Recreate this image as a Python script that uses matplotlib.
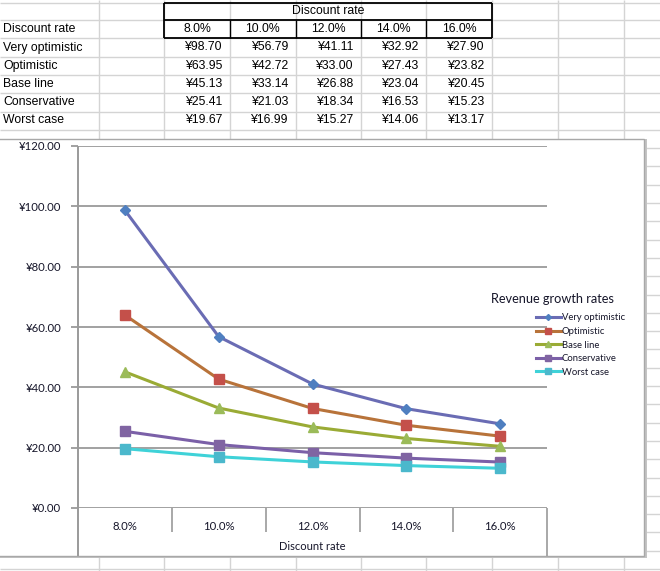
import matplotlib
matplotlib.use("Agg")
import matplotlib.pyplot as plt
from matplotlib.lines import Line2D
from matplotlib.patches import Rectangle

# ---------------- data ----------------
rates = ["8.0%", "10.0%", "12.0%", "14.0%", "16.0%"]
scenarios = ["Very optimistic", "Optimistic", "Base line", "Conservative", "Worst case"]
very_optimistic = [98.70, 56.79, 41.11, 32.92, 27.90]
optimistic = [63.95, 42.72, 33.00, 27.43, 23.82]
base_line = [45.13, 33.14, 26.88, 23.04, 20.45]
conservative = [25.41, 21.03, 18.34, 16.53, 15.23]
worst_case = [19.67, 16.99, 15.27, 14.06, 13.17]
series = [very_optimistic, optimistic, base_line, conservative, worst_case]
y_ticks = [0, 20, 40, 60, 80, 100, 120]
y_tick_labels = ["¥0.00", "¥20.00", "¥40.00", "¥60.00", "¥80.00", "¥100.00", "¥120.00"]
x_title = "Discount rate"
legend_title = "Revenue growth rates"

# ---------------- styles ----------------
line_colors = ["#6a6cb4", "#b8733a", "#9aab35", "#7b60a8", "#3fd2d8"]
marker_colors = ["#4f7fc0", "#c4504a", "#9bbb59", "#8064a2", "#4bb8cc"]
markers = ["D", "s", "^", "s", "s"]
msizes = [5.5, 7.8, 7.8, 7.8, 7.8]

W, H = 660, 571
fig = plt.figure(figsize=(W / 100, H / 100), dpi=100)
fig.patch.set_facecolor("white")


def fx(x):
    return x / W


def fy(y):
    return 1 - y / H


def fline(x1, y1, x2, y2, color, lw=1.0, z=0.5):
    fig.add_artist(Line2D([fx(x1), fx(x2)], [fy(y1), fy(y2)], transform=fig.transFigure,
                          color=color, lw=lw, zorder=z, solid_capstyle="butt"))


tbl_font = ["Liberation Sans", "DejaVu Sans"]
ch_font = ["Lato", "DejaVu Sans"]
grid_c = "#d4d4d4"
txt_c = "#16162a"

# ---------------- spreadsheet grid ----------------
row_y = [3] + [20 + 18.3 * k for k in range(31)]
col_x = [99, 164, 230, 296, 361, 426, 492, 558, 624]
for y in row_y:
    fline(0, y, W, y, grid_c, 1.0, 0.5)
for x in col_x:
    fline(x, 0, x, H, grid_c, 1.0, 0.5)

# ---------------- table ----------------
tc = [164, 230, 296, 361, 426, 492]
fig.text(fx(328), fy(11.5), "Discount rate", ha="center", va="center",
         fontsize=8.8, family=tbl_font, color="black", zorder=4)
fig.text(fx(3), fy(29), "Discount rate", ha="left", va="center",
         fontsize=8.8, family=tbl_font, color="black", zorder=4)
for i, r in enumerate(rates):
    fig.text(fx((tc[i] + tc[i + 1]) / 2), fy(29.5), r, ha="center", va="center",
             fontsize=8.8, family=tbl_font, color="black", zorder=4)
for j, (name, vals) in enumerate(zip(scenarios, series)):
    yc = 47.5 + 18.2 * j
    fig.text(fx(3), fy(yc), name, ha="left", va="center",
             fontsize=8.8, family=tbl_font, color="black", zorder=4)
    for i, v in enumerate(vals):
        fig.text(fx(tc[i + 1] - 8), fy(yc), f"¥{v:.2f}", ha="right", va="center",
                 fontsize=8.8, family=tbl_font, color="black", zorder=4)
# borders
for (x1, y1, x2, y2) in [(164, 3, 492, 3), (164, 20, 492, 20), (164, 38, 492, 38),
                         (164, 3, 164, 38), (492, 3, 492, 38)]:
    fline(x1, y1, x2, y2, "black", 1.3, 3)
for x in tc[1:-1]:
    fline(x, 20, x, 38, "black", 1.0, 3)

# ---------------- chart box ----------------
fig.add_artist(Rectangle((fx(-2), fy(557.5)), fx(648.5), (557.5 - 139) / H,
                         transform=fig.transFigure, facecolor="#c4c4c4",
                         edgecolor="none", zorder=0.9))
fig.add_artist(Rectangle((fx(-5), fy(556)), fx(649), (556 - 138.5) / H,
                         transform=fig.transFigure, facecolor="white",
                         edgecolor="#a8a8a8", lw=1.0, zorder=1))

# category axis area lines
ax_col = "#9a9a9a"
fline(78, 146, 78, 556, ax_col, 1.4, 2)
fline(547, 508, 547, 556, ax_col, 1.2, 2)
for x in [172, 266, 360, 453]:
    fline(x, 508, x, 532, ax_col, 1.2, 2)

# ---------------- axes ----------------
ax = fig.add_axes([fx(78), fy(508), (547 - 78) / W, (508 - 146) / H])
ax.set_zorder(3)
ax.patch.set_visible(False)
ax.set_xlim(-0.5, 4.5)
ax.set_ylim(0, 120)
for s in ax.spines.values():
    s.set_visible(False)
ax.set_yticks(y_ticks, y_tick_labels)
ax.yaxis.grid(True, color=ax_col, lw=1.3)
ax.set_axisbelow(True)
ax.tick_params(axis="y", length=5, width=1.3, color=ax_col, pad=7, labelsize=8.2,
               labelcolor=txt_c)
ax.set_xticks(range(len(rates)), rates)
ax.tick_params(axis="x", length=0, pad=9, labelsize=8.2, labelcolor=txt_c)
for lab in ax.get_xticklabels() + ax.get_yticklabels():
    lab.set_family(ch_font)
ax.set_xlabel(x_title, fontsize=8.0, family=ch_font, color=txt_c, labelpad=7)

handles = []
for name, vals, lc, mc, mk, ms in zip(scenarios, series, line_colors, marker_colors,
                                      markers, msizes):
    h, = ax.plot(range(len(vals)), vals, color=lc, lw=2.2, marker=mk, ms=ms,
                 markerfacecolor=mc, markeredgecolor=mc, label=name, clip_on=False)
    handles.append(h)

# ---------------- legend ----------------
fig.text(fx(552), fy(299), legend_title, ha="center", va="center", fontsize=9.2,
         family=ch_font, color=txt_c, zorder=4)
leg = ax.legend(handles=handles, loc="upper left", bbox_to_anchor=(fx(536), fy(313.5)),
                bbox_transform=fig.transFigure, frameon=False,
                prop={"family": ch_font, "size": 6.8}, handlelength=2.6,
                handletextpad=0.15, labelspacing=0.48, markerscale=0.55,
                borderaxespad=0, borderpad=0)
for t in leg.get_texts():
    t.set_color(txt_c)

fig.savefig("out.png", dpi=100)
